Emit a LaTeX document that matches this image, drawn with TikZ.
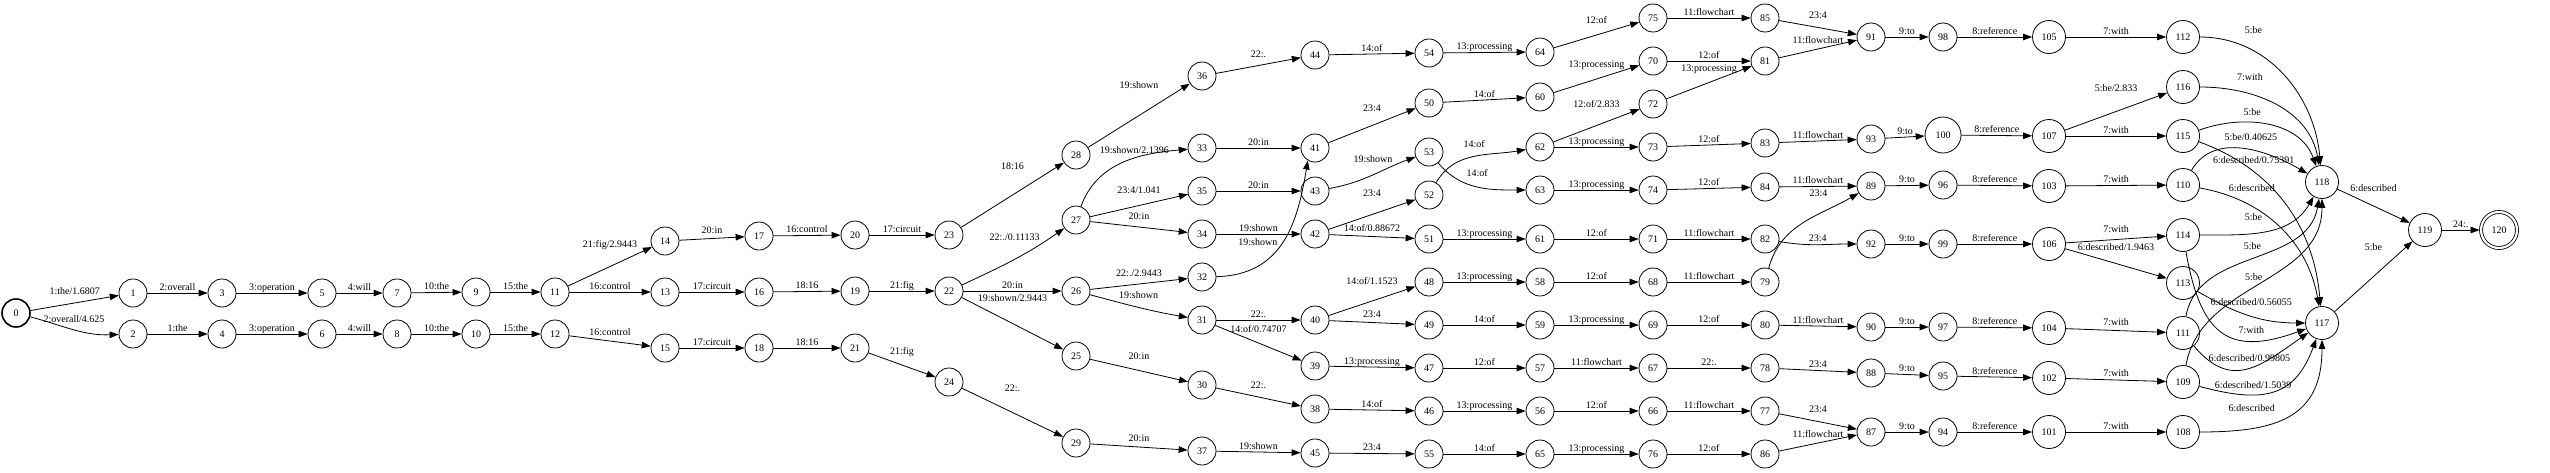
\documentclass[tikz,border=0pt]{standalone}
\usepackage{fontspec}
\setmainfont{Liberation Serif}
\usetikzlibrary{arrows.meta}

\begin{document}
\begin{tikzpicture}[x=1pt, y=-1pt, >={Triangle[length=9pt,width=6.5pt]},
    st/.style={circle, draw, line width=0.8pt, minimum size=28pt, inner sep=0pt, font=\fontsize{10}{12}\selectfont},
    stbig/.style={st, minimum size=33pt},
    stfinal/.style={stbig, minimum size=36pt, double, double distance=2.2pt, outer sep=1.5pt},
    lab/.style={above, inner sep=0.5pt, text height=7pt, text depth=2pt, font=\fontsize{10}{12}\selectfont},
    tr/.style={->, line width=0.8pt}]
    \useasboundingbox (0,0) rectangle (2550,472);

    % states, column by column
    \node[st, line width=1.6pt] (n0) at (16,313) {0};
    \node[st] (n1) at (133,293) {1};
    \node[st] (n2) at (133,334) {2};
    \node[st] (n3) at (222,293) {3};
    \node[st] (n4) at (222,334) {4};
    \node[st] (n5) at (322,293) {5};
    \node[st] (n6) at (322,334) {6};
    \node[st] (n7) at (397,293) {7};
    \node[st] (n8) at (397,334) {8};
    \node[st] (n9) at (476,292) {9};
    \node[st] (n10) at (476,334) {10};
    \node[st] (n11) at (555,292) {11};
    \node[st] (n12) at (555,334) {12};
    \node[st] (n14) at (665,241) {14};
    \node[st] (n13) at (665,292) {13};
    \node[st] (n15) at (665,348) {15};
    \node[st] (n17) at (759,236) {17};
    \node[st] (n16) at (759,292) {16};
    \node[st] (n18) at (759,348) {18};
    \node[st] (n20) at (855,235) {20};
    \node[st] (n19) at (855,291) {19};
    \node[st] (n21) at (855,348) {21};
    \node[st] (n23) at (949,235) {23};
    \node[st] (n22) at (949,291) {22};
    \node[st] (n24) at (949,382) {24};
    \node[st] (n28) at (1076,155) {28};
    \node[st] (n27) at (1076,220) {27};
    \node[st] (n26) at (1076,291) {26};
    \node[st] (n25) at (1076,356) {25};
    \node[st] (n29) at (1076,443) {29};
    \node[st] (n36) at (1202,76) {36};
    \node[st] (n33) at (1202,148) {33};
    \node[st] (n35) at (1202,191) {35};
    \node[st] (n34) at (1202,234) {34};
    \node[st] (n32) at (1202,277) {32};
    \node[st] (n31) at (1202,320) {31};
    \node[st] (n30) at (1202,385) {30};
    \node[st] (n37) at (1202,451) {37};
    \node[st] (n44) at (1315,55) {44};
    \node[st] (n41) at (1315,148) {41};
    \node[st] (n43) at (1315,191) {43};
    \node[st] (n42) at (1315,234) {42};
    \node[st] (n40) at (1315,320) {40};
    \node[st] (n39) at (1315,366) {39};
    \node[st] (n38) at (1315,409) {38};
    \node[st] (n45) at (1315,453) {45};
    \node[st] (n54) at (1429,53) {54};
    \node[st] (n50) at (1429,103) {50};
    \node[st] (n53) at (1429,152) {53};
    \node[st] (n52) at (1429,195) {52};
    \node[st] (n51) at (1429,239) {51};
    \node[st] (n48) at (1429,282) {48};
    \node[st] (n49) at (1429,325) {49};
    \node[st] (n47) at (1429,368) {47};
    \node[st] (n46) at (1429,411) {46};
    \node[st] (n55) at (1429,454) {55};
    \node[st] (n64) at (1540,52) {64};
    \node[st] (n60) at (1540,97) {60};
    \node[st] (n62) at (1540,147) {62};
    \node[st] (n63) at (1540,190) {63};
    \node[st] (n61) at (1540,239) {61};
    \node[st] (n58) at (1540,282) {58};
    \node[st] (n59) at (1540,325) {59};
    \node[st] (n57) at (1540,368) {57};
    \node[st] (n56) at (1540,411) {56};
    \node[st] (n65) at (1540,454) {65};
    \node[st] (n75) at (1653,18) {75};
    \node[st] (n70) at (1653,61) {70};
    \node[st] (n72) at (1653,104) {72};
    \node[st] (n73) at (1653,147) {73};
    \node[st] (n74) at (1653,190) {74};
    \node[st] (n71) at (1653,239) {71};
    \node[st] (n68) at (1653,282) {68};
    \node[st] (n69) at (1653,325) {69};
    \node[st] (n67) at (1653,368) {67};
    \node[st] (n66) at (1653,411) {66};
    \node[st] (n76) at (1653,454) {76};
    \node[st] (n85) at (1765,18) {85};
    \node[st] (n81) at (1765,61) {81};
    \node[st] (n83) at (1765,143) {83};
    \node[st] (n84) at (1765,187) {84};
    \node[st] (n82) at (1765,239) {82};
    \node[st] (n79) at (1765,282) {79};
    \node[st] (n80) at (1765,325) {80};
    \node[st] (n78) at (1765,368) {78};
    \node[st] (n77) at (1765,411) {77};
    \node[st] (n86) at (1765,454) {86};
    \node[st] (n91) at (1871,37) {91};
    \node[st] (n93) at (1871,139) {93};
    \node[st] (n89) at (1871,186) {89};
    \node[st] (n92) at (1871,244) {92};
    \node[st] (n90) at (1871,327) {90};
    \node[st] (n88) at (1871,373) {88};
    \node[st] (n87) at (1871,432) {87};
    \node[st] (n98) at (1943,37) {98};
    \node[stbig, minimum size=36pt] (n100) at (1943,135) {100};
    \node[st] (n96) at (1943,185) {96};
    \node[st] (n99) at (1943,244) {99};
    \node[st] (n97) at (1943,327) {97};
    \node[st] (n95) at (1943,376) {95};
    \node[st] (n94) at (1943,432) {94};
    \node[stbig] (n105) at (2049,37) {105};
    \node[stbig] (n107) at (2049,136) {107};
    \node[stbig] (n103) at (2049,186) {103};
    \node[stbig] (n106) at (2049,244) {106};
    \node[stbig] (n104) at (2049,328) {104};
    \node[stbig] (n102) at (2049,378) {102};
    \node[stbig] (n101) at (2049,432) {101};
    \node[stbig] (n112) at (2183,37) {112};
    \node[stbig] (n116) at (2183,87) {116};
    \node[stbig] (n115) at (2183,136) {115};
    \node[stbig] (n110) at (2183,185) {110};
    \node[stbig] (n114) at (2183,235) {114};
    \node[stbig] (n113) at (2183,283) {113};
    \node[stbig] (n111) at (2183,333) {111};
    \node[stbig] (n109) at (2183,382) {109};
    \node[stbig] (n108) at (2183,432) {108};
    \node[stbig] (n118) at (2322,182) {118};
    \node[stbig] (n117) at (2322,323) {117};
    \node[stbig] (n119) at (2425,230) {119};
    \node[stfinal] (n120) at (2499,230) {120};

    % transitions
    \draw[tr] (n0) -- node[lab, above=6pt] {1:the/1.6807} (n1);
    \draw[tr] (n0) to[out=-15,in=182] node[lab, above=4pt] {2:overall/4.625} (n2);
    \draw[tr] (n1) -- node[lab] {2:overall} (n3);
    \draw[tr] (n2) -- node[lab] {1:the} (n4);
    \draw[tr] (n3) -- node[lab] {3:operation} (n5);
    \draw[tr] (n4) -- node[lab] {3:operation} (n6);
    \draw[tr] (n5) -- node[lab] {4:will} (n7);
    \draw[tr] (n6) -- node[lab] {4:will} (n8);
    \draw[tr] (n7) -- node[lab] {10:the} (n9);
    \draw[tr] (n8) -- node[lab] {10:the} (n10);
    \draw[tr] (n9) -- node[lab] {15:the} (n11);
    \draw[tr] (n10) -- node[lab] {15:the} (n12);
    \draw[tr] (n11) -- node[lab, above=16pt] {21:fig/2.9443} (n14);
    \draw[tr] (n11) -- node[lab] {16:control} (n13);
    \draw[tr] (n12) -- node[lab, above=3pt] {16:control} (n15);
    \draw[tr] (n14) -- node[lab, above=2pt] {20:in} (n17);
    \draw[tr] (n13) -- node[lab] {17:circuit} (n16);
    \draw[tr] (n15) -- node[lab] {17:circuit} (n18);
    \draw[tr] (n17) -- node[lab] {16:control} (n20);
    \draw[tr] (n16) -- node[lab] {18:16} (n19);
    \draw[tr] (n18) -- node[lab] {18:16} (n21);
    \draw[tr] (n20) -- node[lab] {17:circuit} (n23);
    \draw[tr] (n19) -- node[lab] {21:fig} (n22);
    \draw[tr] (n21) -- node[lab, above=8pt] {21:fig} (n24);
    \draw[tr] (n23) -- node[lab, above=23pt] {18:16} (n28);
    \draw[tr] (n22) to[out=25,in=-145] node[lab, above=16pt] {22:./0.11133} (n27);
    \draw[tr] (n22) -- node[lab] {20:in} (n26);
    \draw[tr] (n22) -- node[lab, above=19pt] {19:shown/2.9443} (n25);
    \draw[tr] (n24) -- node[lab, above=18pt] {22:.} (n29);
    \draw[tr] (n28) -- node[lab, above=24pt] {19:shown} (n36);
    \draw[tr] (n27) to[out=70,in=185] node[lab, pos=.6, above=2pt] {19:shown/2.1396} (n33);
    \draw[tr] (n27) -- node[lab, above=9pt] {23:4/1.041} (n35);
    \draw[tr] (n27) -- node[lab, above=5pt] {20:in} (n34);
    \draw[tr] (n26) -- node[lab, above=5pt] {22:./2.9443} (n32);
    \draw[tr] (n26) to[out=-15,in=170] node[lab, above=6pt] {19:shown} (n31);
    \draw[tr] (n25) -- node[lab, above=8pt] {20:in} (n30);
    \draw[tr] (n29) -- node[lab, above=3pt] {20:in} (n37);
    \draw[tr] (n36) -- node[lab, above=5pt] {22:.} (n44);
    \draw[tr] (n33) -- node[lab] {20:in} (n41);
    \draw[tr] (n35) -- node[lab] {20:in} (n43);
    \draw[tr] (n34) -- node[lab] {19:shown} (n42);
    \draw[tr] (n32) .. controls +(82,-2) and +(-10,60) .. node[lab, pos=.25, above=18pt] {19:shown} (n41.-120);
    \draw[tr] (n31) -- node[lab] {22:.} (n40);
    \draw[tr] (n31) -- node[lab, above=8pt] {14:of/0.74707} (n39);
    \draw[tr] (n30) -- node[lab, above=6pt] {22:.} (n38);
    \draw[tr] (n37) -- node[lab] {19:shown} (n45);
    \draw[tr] (n44) -- node[lab] {14:of} (n54);
    \draw[tr] (n41) -- node[lab, above=11pt] {23:4} (n50);
    \draw[tr] (n43) to[out=10,in=200] node[lab, above=10pt] {19:shown} (n53);
    \draw[tr] (n42) -- node[lab, above=15pt] {23:4} (n52);
    \draw[tr] (n42) -- node[lab, above=2pt] {14:of/0.88672} (n51);
    \draw[tr] (n40) -- node[lab, above=14pt] {14:of/1.1523} (n48);
    \draw[tr] (n40) -- node[lab, above=2pt] {23:4} (n49);
    \draw[tr] (n39) -- node[lab] {13:processing} (n47);
    \draw[tr] (n38) -- node[lab] {14:of} (n46);
    \draw[tr] (n45) -- node[lab] {23:4} (n55);
    \draw[tr] (n54) -- node[lab] {13:processing} (n64);
    \draw[tr] (n50) -- node[lab] {14:of} (n60);
    \draw[tr] (n52) to[out=60,in=190] node[lab, above=6pt] {14:of} (n62);
    \draw[tr] (n53) to[out=-50,in=180] node[lab, above=7pt] {14:of} (n63);
    \draw[tr] (n51) -- node[lab] {13:processing} (n61);
    \draw[tr] (n48) -- node[lab] {13:processing} (n58);
    \draw[tr] (n49) -- node[lab] {14:of} (n59);
    \draw[tr] (n47) -- node[lab] {12:of} (n57);
    \draw[tr] (n46) -- node[lab] {13:processing} (n56);
    \draw[tr] (n55) -- node[lab] {14:of} (n65);
    \draw[tr] (n64) -- node[lab, above=9pt] {12:of} (n75);
    \draw[tr] (n60) -- node[lab, above=9pt] {13:processing} (n70);
    \draw[tr] (n62) -- node[lab, above=15pt] {12:of/2.833} (n72);
    \draw[tr] (n62) -- node[lab] {13:processing} (n73);
    \draw[tr] (n63) -- node[lab] {13:processing} (n74);
    \draw[tr] (n61) -- node[lab] {12:of} (n71);
    \draw[tr] (n58) -- node[lab] {12:of} (n68);
    \draw[tr] (n59) -- node[lab] {13:processing} (n69);
    \draw[tr] (n57) -- node[lab] {11:flowchart} (n67);
    \draw[tr] (n56) -- node[lab] {12:of} (n66);
    \draw[tr] (n65) -- node[lab] {13:processing} (n76);
    \draw[tr] (n75) -- node[lab] {11:flowchart} (n85);
    \draw[tr] (n70) -- node[lab] {12:of} (n81);
    \draw[tr] (n72) -- node[lab, above=8pt] {13:processing} (n81);
    \draw[tr] (n73) -- node[lab] {12:of} (n83);
    \draw[tr] (n74) -- node[lab] {12:of} (n84);
    \draw[tr] (n71) -- node[lab] {11:flowchart} (n82);
    \draw[tr] (n68) -- node[lab] {11:flowchart} (n79);
    \draw[tr] (n69) -- node[lab] {12:of} (n80);
    \draw[tr] (n67) -- node[lab] {22:.} (n78);
    \draw[tr] (n66) -- node[lab] {11:flowchart} (n77);
    \draw[tr] (n76) -- node[lab] {12:of} (n86);
    \draw[tr] (n85) -- node[lab, above=6pt] {23:4} (n91);
    \draw[tr] (n81) -- node[lab, above=3pt] {11:flowchart} (n91);
    \draw[tr] (n83) -- node[lab] {11:flowchart} (n93);
    \draw[tr] (n84) -- node[lab] {11:flowchart} (n89);
    \draw[tr] (n79) to[out=75,in=210] node[lab, pos=.65, above=14pt] {23:4} (n89);
    \draw[tr] (n82) to[out=-10,in=180] node[lab] {23:4} (n92);
    \draw[tr] (n80) -- node[lab] {11:flowchart} (n90);
    \draw[tr] (n78) -- node[lab] {23:4} (n88);
    \draw[tr] (n77) -- node[lab, above=6pt] {23:4} (n87);
    \draw[tr] (n86) -- node[lab, above=3pt] {11:flowchart} (n87);
    \draw[tr] (n91) -- node[lab] {9:to} (n98);
    \draw[tr] (n93) -- node[lab] {9:to} (n100);
    \draw[tr] (n89) -- node[lab] {9:to} (n96);
    \draw[tr] (n92) -- node[lab] {9:to} (n99);
    \draw[tr] (n90) -- node[lab] {9:to} (n97);
    \draw[tr] (n88) -- node[lab] {9:to} (n95);
    \draw[tr] (n87) -- node[lab] {9:to} (n94);
    \draw[tr] (n98) -- node[lab] {8:reference} (n105);
    \draw[tr] (n100) -- node[lab] {8:reference} (n107);
    \draw[tr] (n96) -- node[lab] {8:reference} (n103);
    \draw[tr] (n99) -- node[lab] {8:reference} (n106);
    \draw[tr] (n97) -- node[lab] {8:reference} (n104);
    \draw[tr] (n95) -- node[lab] {8:reference} (n102);
    \draw[tr] (n94) -- node[lab] {8:reference} (n101);
    \draw[tr] (n105) -- node[lab] {7:with} (n112);
    \draw[tr] (n107) -- node[lab, above=17pt] {5:be/2.833} (n116);
    \draw[tr] (n107) -- node[lab] {7:with} (n115);
    \draw[tr] (n103) -- node[lab] {7:with} (n110);
    \draw[tr] (n106) -- node[lab, above=4pt] {7:with} (n114);
    \draw[tr] (n106) -- node[lab, above=10pt] {6:described/1.9463} (n113);
    \draw[tr] (n104) -- node[lab, above=2pt] {7:with} (n111);
    \draw[tr] (n102) -- node[lab, above=1pt] {7:with} (n109);
    \draw[tr] (n101) -- node[lab] {7:with} (n108);

    % fan-in to 118 and 117
    \draw[tr] (n112) to[out=0,in=95] node[lab, pos=.29, above=14pt] {5:be} (n118);
    \draw[tr] (n116) to[out=0,in=100] node[lab, pos=.31, above=11pt] {7:with} (n118);
    \draw[tr] (n115) to[out=20,in=110] node[lab, pos=.38, above=4pt] {5:be} (n118);
    \draw[tr] (n110) to[out=60,in=150] node[lab, pos=.56, above=7pt] {5:be/0.40625} (n118);
    \draw[tr] (n115) to[out=-20,in=95] node[lab, pos=.28, above=5pt] {6:described/0.75391} (n117);
    \draw[tr] (n110) to[out=-10,in=100] node[lab, pos=.3, above=12pt] {6:described} (n117);
    \draw[tr] (n114) to[out=0,in=-120] node[lab, pos=.4, above=10pt] {5:be} (n118);
    \draw[tr] (n111) to[out=80,in=-100] node[lab, pos=.5, above=5pt] {5:be} (n118);
    \draw[tr] (n109) to[out=80,in=-90] node[lab, pos=.47, above=3pt] {5:be} (n118);
    \draw[tr] (n113) to[out=-30,in=180] node[lab, pos=.52, above=8pt] {6:described/0.56055} (n117);
    \draw[tr] (n114) to[out=-80,in=200,looseness=1.5] node[lab, pos=.72, above=4pt] {7:with} (n117);
    \draw[tr] (n111) to[out=-50,in=-145,looseness=1.3] node[lab, pos=.52, above=4pt] {6:described/0.99805} (n117);
    \draw[tr] (n109) to[out=-15,in=-110,looseness=1.3] node[lab, pos=.34, above=3pt] {6:described/1.5039} (n117);
    \draw[tr] (n108) to[out=0,in=-90,looseness=1.3] node[lab, pos=.25, above=14pt] {6:described} (n117);

    % end
    \draw[tr] (n118) -- node[lab, above=12pt] {6:described} (n119);
    \draw[tr] (n117) -- node[lab, above=23pt] {5:be} (n119);
    \draw[tr] (n119) -- node[lab] {24:.} (n120);
\end{tikzpicture}
\end{document}
